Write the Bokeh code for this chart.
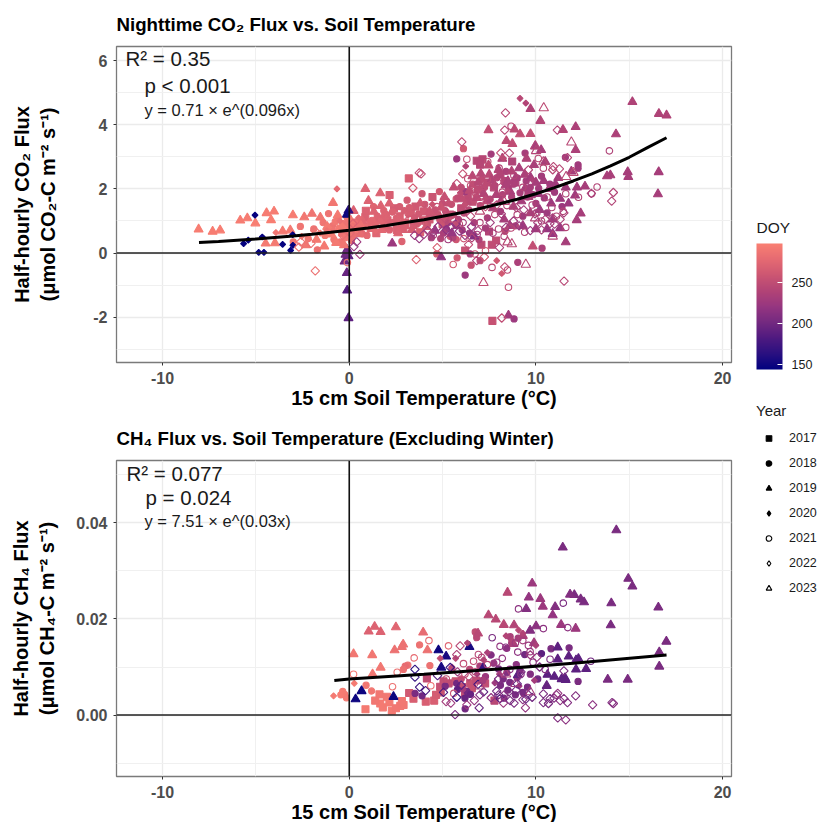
from bokeh.plotting import figure
from bokeh.layouts import column, row
from bokeh.models import (ColumnDataSource, FixedTicker, Span, Label, LinearColorMapper, ColorBar,
                          Range1d, Legend, LegendItem, NumeralTickFormatter)
from bokeh.embed import file_html
from bokeh.resources import INLINE
import math

FONT = "Liberation Sans"
PALETTE_STOPS = ["#00007f", "#2a1080", "#4f1a80", "#742a80", "#963680", "#b24476", "#cc5672", "#e56a72", "#fa8072"]
DOY_LOW, DOY_HIGH = 144, 298

# ---- CO2 panel: (soil temperature, flux, DOY) per year
co2_2017 = [(3.19,2.33,268),(2.16,1.81,268),(0.89,1.32,270),(0.86,1.12,270),(1.6,1.05,272),(2.4,1.4,265),(2.7,1.15,268),
 (3.0,0.95,270),(3.3,1.25,265),(1.9,0.8,272),(0.3,0.95,278),(4.0,1.3,262),(4.46,1.75,258),(3.8,0.65,268),(5.0,0.9,258),
 (6.0,1.4,250),(6.6,1.6,252),(6.83,2.88,243),(7.14,2.93,243),(7.01,2.76,243),(7.49,0.67,240),(7.08,0.26,248),(7.87,0.39,250),
 (7.64,0.26,250),(6.21,0.08,255),(7.67,-2.12,255),(8.73,2.86,238),(8.1,2.45,240),(7.4,2.2,248),(5.4,1.2,255),(2.9,0.75,268),(4.3,1.05,262),
 (8.9,2.2,238),(9.6,1.85,235),(3.55,1.45,262),(2.05,1.02,270),(2.55,0.72,270),(3.45,0.88,266),(3.95,1.02,264),(4.7,1.18,258),(5.2,1.05,256),
 (5.75,0.88,252),(6.35,1.78,248),(6.9,1.98,248),(7.75,2.05,244),(8.35,2.25,242),(0.55,0.62,280),(1.15,0.78,276),(1.45,0.62,274)]
co2_2018 = [(5.76,2.94,225),(6.12,3.26,262),(7.60,3.09,230),(9.42,3.12,232),(11.58,2.99,230),(8.83,-2.06,225),(6.21,-0.69,225),
 (6.53,-0.38,255),(5.78,-0.15,262),(4.69,-0.03,265),(7.01,-0.24,248),(9.03,-0.29,235),(10.33,0.15,235),(4.83,1.92,262),(5.73,1.69,258),
 (6.21,1.92,228),(12.26,2.75,228),(12.26,2.65,228),(6.48,-0.03,232),(5.41,0.52,258),(5.73,0.42,260),(8.35,0.68,248),(2.82,0.36,272),
 (-1.71,0.10,285),(-2.62,0.83,288),(-1.11,1.23,286),(-1.9,0.75,286),(-1.4,0.95,288),(-0.9,0.85,286),(-0.6,1.05,285),(-0.4,0.6,286),
 (-0.2,0.75,284),(0.4,0.9,282),(0.7,0.6,280),(1.1,0.85,276),(1.5,1.15,272),(2.0,1.2,270),(2.3,0.95,270),(2.7,1.45,266),(3.1,1.65,264),
 (3.5,1.1,262),(3.9,1.85,258),(4.2,0.9,258),(4.6,1.35,256),(5.0,1.55,252),(5.3,0.95,245),(5.6,1.2,250),(6.0,2.05,248),(6.4,1.35,246),
 (6.8,1.75,252),(7.1,2.3,248),(7.4,1.1,235),(7.8,2.1,242),(8.1,1.3,232),(8.4,2.55,236),(8.7,1.75,236),(9.0,2.35,234),(9.3,1.15,228),
 (9.7,2.05,232),(10.0,1.55,232),(10.3,2.4,230),(10.6,1.25,226),(11.0,1.9,228),(11.4,1.45,225),(6.7,0.95,235),(5.2,0.75,225),(4.9,0.45,240),
 (8.9,0.85,240),(-3.0,0.35,290),(-2.2,0.45,290),(1.3,1.45,274),(0.2,0.55,282),
 (-1.3,0.55,292),(-1.05,0.72,292),(-0.82,0.42,290),(-0.75,0.98,290),(-0.55,0.78,292),(-0.48,0.35,288),(-0.3,0.92,290),(-0.22,0.48,288),
 (-0.12,1.12,290),(0.05,0.82,286),(0.12,0.38,284),(0.32,0.72,284),(0.52,1.02,284),(0.82,0.82,280),(0.95,0.55,278),(1.22,1.02,276),(1.42,0.88,276),
 (1.72,1.0,274),(1.85,1.32,272),(2.15,0.72,272),(2.32,1.28,270),(2.52,1.08,270),(2.78,0.92,268),(2.95,1.32,266),(3.22,1.42,266),(3.42,0.98,262),
 (3.72,1.22,262),(4.05,1.52,258),(4.32,1.18,258),(4.85,1.05,256),(5.15,1.32,252),(5.48,1.52,254),(5.82,1.72,250),(6.15,1.25,248),(6.62,2.15,250),
 (7.02,1.48,246),(7.25,2.05,248),(7.55,1.68,244),(7.92,2.35,240),(8.22,1.82,238),(8.52,2.05,236),(8.82,2.15,236),(9.15,1.88,234),(9.48,2.25,232),
 (9.85,1.82,232),(10.15,2.02,230),(10.45,1.72,228),(10.75,2.15,228),(5.05,0.62,235),(5.55,0.48,238),(6.05,0.72,230),(6.45,0.62,225),(6.95,0.42,238),
 (7.3,0.78,232),(4.4,0.48,232),(5.85,1.05,240)]
co2_2019 = [(15.17,4.72,238),(16.59,4.35,238),(17.0,4.30,238),(14.29,3.71,236),(9.71,4.50,238),(10.24,4.13,242),(12.13,3.94,236),
 (11.45,3.85,240),(7.46,3.84,252),(8.85,3.86,248),(9.15,3.71,252),(9.71,3.72,252),(8.42,3.50,248),(8.74,3.41,250),(12.13,3.22,236),
 (10.28,3.22,232),(9.96,3.33,232),(14.92,2.53,232),(14.95,2.38,232),(16.58,2.53,232),(16.54,1.84,232),(13.99,2.43,234),(13.81,2.40,234),
 (12.63,2.08,232),(12.40,1.24,232),(12.19,1.03,232),(11.60,0.34,232),(9.83,0.21,252),(4.92,-0.13,220),(8.53,-1.95,228),(7.46,2.74,248),
 (-8.07,0.74,295),(-7.32,0.67,295),(-6.92,0.71,295),(-5.84,1.02,294),(-5.46,1.09,294),(-5.03,0.93,296),(-4.43,1.25,294),(-4.03,1.30,294),
 (-4.19,1.03,296),(-3.02,1.18,294),(-4.48,0.30,292),(-0.87,1.57,290),(-2.41,1.12,290),(-2.0,1.23,288),(-1.55,1.11,290),(-3.57,0.68,292),
 (-3.16,0.71,292),(-3.98,0.31,292),(-2.32,0.25,290),(-1.34,0.21,292),(0.86,2.0,272),(1.66,1.87,272),(1.03,1.63,272),(1.32,1.29,272),
 (1.69,1.47,272),(0.23,1.32,270),(2.15,1.55,270),(-0.04,1.33,165),(-0.13,1.2,150),(-0.04,0.05,195),(-0.13,-0.62,195),(-0.11,-1.17,185),
 (-0.04,-2.03,190),(-0.25,-0.26,200),(-0.04,-0.1,190),(-0.12,0.1,195),(-0.2,-0.05,200),(2.3,0.3,225),(3.8,1.55,262),(4.3,1.3,260),(5.1,1.75,255),
 (5.6,2.05,250),(6.3,1.6,248),(6.9,2.2,245),(7.2,1.85,240),(7.7,1.4,238),(8.0,2.6,240),(8.2,2.95,238),(8.5,2.25,236),(8.8,1.45,236),
 (9.1,2.65,234),(9.4,2.45,236),(9.6,1.75,232),(9.9,2.75,234),(10.0,2.2,232),(10.2,1.35,226),(10.5,2.85,234),(10.7,2.0,230),(10.9,1.05,225),
 (11.2,2.35,232),(11.3,1.7,226),(11.6,2.05,228),(11.75,1.55,225),(11.9,2.55,232),(12.1,1.8,228),(12.2,2.05,230),(8.3,1.05,232),(9.3,0.85,228),
 (10.6,0.75,222),(10.9,0.6,222),(11.3,0.78,225),(6.7,0.52,210),(5.5,0.62,222),(3.0,0.85,268),(2.5,0.95,270),(1.9,1.2,272),(0.7,1.0,275),
 (7.5,2.45,246),(6.6,2.4,246),(9.7,1.25,236),(8.7,2.55,240),(9.5,2.95,238),(4.6,0.7,222),(8.6,0.85,235),(10.0,0.75,228),
 (-1.75,0.42,292),(-1.18,0.82,292),(-0.95,0.58,294),(-0.7,0.32,292),(-0.62,1.18,292),(-0.38,0.85,292),(-0.28,0.25,290),(-0.08,0.62,290),
 (0.08,1.02,290),(0.2,0.72,288),(0.62,0.85,284),(1.72,0.72,276),(2.62,0.62,272),(3.35,0.72,266),(4.12,0.82,262),(4.92,1.42,258),(5.32,1.55,254),
 (6.05,1.68,250),(6.45,1.95,248),(6.85,1.72,246),(7.05,2.48,244),(7.38,1.62,240),(7.62,2.28,240),(7.88,1.82,238),(8.12,1.62,236),(8.38,2.12,236),
 (8.62,1.92,234),(8.92,2.35,234),(9.22,1.62,232),(9.42,2.02,232),(9.72,2.35,230),(10.12,1.85,228),(10.42,2.25,230),(10.82,1.55,226),(11.05,2.15,228)]
co2_2020 = [(-5.05,1.18,147),(-5.66,0.29,147),(-5.41,0.40,147),(-4.66,0.50,147),(-4.85,0.02,147),(-4.57,0.02,147),(-3.57,0.27,147),
 (-3.14,0.08,147),(-3.02,0.24,147),(-3.03,0.57,147),(-3.93,0.64,288),(-0.66,2.0,278),(9.15,4.83,245),(9.46,4.68,240),(6.24,2.71,240),
 (7.90,-0.24,262),(8.17,-0.64,262),(8.26,2.96,248),(-1.2,0.7,286),(-0.5,1.0,284),(0.5,1.1,278),(1.4,0.7,278),(2.6,1.0,270),(3.7,0.9,264),
 (4.8,1.2,258),(6.2,1.5,252),(7.3,1.7,246),(8.5,1.95,240),(9.8,2.3,236),(-2.55,0.52,290),(-1.55,0.62,290),(-0.85,0.72,288),(-0.15,0.95,286),(1.08,0.98,276),
 (1.95,1.08,272),(3.15,1.18,266),(4.45,1.52,258),(5.95,1.88,250)]
co2_2021 = [(13.94,3.19,238),(6.30,2.93,250),(7.42,2.86,250),(8.67,3.96,245),(8.03,2.65,240),(10.13,2.95,245),(10.4,2.65,240),(13.28,2.06,240),
 (12.99,1.85,238),(12.28,1.74,240),(11.6,0.80,240),(11.47,1.30,240),(8.53,-1.07,252),(8.48,-0.53,248),(7.65,-0.45,248),(5.57,-0.36,262),
 (7.30,0.07,262),(6.74,-0.03,255),(6.14,0.45,260),(8.67,0.78,246),(-0.1,-0.3,285),(6.5,2.1,252),(6.0,1.35,250),(5.4,1.15,255),(4.7,1.45,256),
 (7.0,1.6,250),(7.4,2.3,248),(7.8,1.2,244),(8.2,1.9,244),(9.0,1.2,240),(9.3,2.05,242),(9.8,1.5,238),(10.3,1.0,238),(10.6,1.75,240),(11.1,1.15,240),
 (11.6,1.85,238),(4.1,0.95,258),(3.2,1.05,262),(2.2,0.85,268),(0.9,0.7,276),(5.9,0.9,248),(7.0,0.95,240),(8.0,0.75,242),(9.4,0.65,240),
 (6.35,2.32,250),(6.75,1.88,250),(7.15,2.08,248),(7.95,2.22,244),(8.45,1.48,240),(8.82,2.42,242),(9.55,1.75,240),(10.05,1.25,236),(10.85,1.42,238),
 (4.5,0.55,232),(5.3,0.42,228),(6.1,0.95,232),(6.85,0.58,228),(7.7,0.62,232),(8.3,0.52,236)]
co2_2022 = [(8.37,4.38,245),(8.33,3.84,245),(6.03,3.47,248),(11.15,3.84,240),(8.12,3.13,250),(8.58,3.12,245),(11.69,2.98,242),(11.26,2.63,245),
 (10.94,2.70,245),(3.85,2.47,250),(6.08,2.47,255),(5.76,2.17,250),(14.15,1.89,240),(14.06,1.62,240),(12.97,1.86,235),(11.51,-0.88,245),
 (8.17,-2.03,250),(8.33,-0.43,252),(4.71,0.17,268),(7.24,-0.12,262),(6.83,-0.24,240),(8.05,0.17,235),(6.57,0.47,240),(6.39,0.26,250),(4.48,0.64,225),
 (-1.82,-0.56,285),(0.57,-0.04,230),(3.59,-0.21,272),(3.41,2.03,265),(3.75,2.5,252),(-2.7,0.18,285),(-2.05,0.3,285),(-2.6,0.35,285),(-1.85,0.7,285),
 (0.4,0.35,225),(0.25,0.2,222),(3.5,0.55,225),(3.75,0.45,220),(5.2,0.72,215),(5.7,0.9,212),(5.9,0.68,215),(6.2,0.55,220),(6.9,0.7,235),(8.4,0.8,225),(8.8,1.0,228),
 (9.1,0.85,222),(9.7,0.7,225),(10.5,1.05,235),(10.9,1.1,235),(11.0,0.9,230),(11.3,1.05,235),(11.5,1.25,235),(10.1,0.95,230),(7.3,1.45,250),(7.9,1.5,246),(6.5,1.15,245),
 (5.1,1.1,250),(4.2,0.7,235),(9.6,2.6,240),(10.9,2.6,245),(-0.35,0.55,282),(0.05,0.62,278),(0.2,0.92,270),(4.0,0.58,225),(4.75,0.82,222),(5.45,0.82,218),
 (6.55,0.82,222),(7.55,0.95,228),(8.15,1.22,232),(8.95,1.42,236),(9.35,1.35,232),(9.95,1.22,232),(10.3,0.72,232),(10.75,0.92,232)]
co2_2023 = [(10.42,4.53,248),(11.90,3.46,245),(9.97,3.34,242),(10.01,3.19,242),(10.4,2.84,245),(11.62,2.38,245),(12.01,2.51,248),(7.19,-0.93,250),
 (9.46,-0.36,245),(8.71,0.28,245),(8.48,0.34,245),(10.9,0.52,240),(9.96,1.09,240),(7.0,1.3,248),(8.3,1.6,245),(5.6,1.05,252)]

# ---- CH4 panel
ch4_2017 = [(.87,.0012,292),(2.28,.0009,292),(2.73,.0019,290),(2.91,.0021,290),(2.82,.0029,290),(1.8,.0016,292),(1.66,.0024,292),(1.39,.0030,290),
 (1.62,.0043,290),(2.02,.0038,290),(3.21,.0046,262),(3.44,.0034,268),(4.1,.0028,268),(4.55,.0030,268),(4.16,.0076,250),(4.87,.0059,255),
 (5.32,.0066,250),(6.48,.0066,255),(6.57,.0056,255),(7.28,.0066,250),(7.78,.0030,245),(5.7,.0070,255),(4.9,.0047,255),(6.2,.0045,250),(2.15,.0026,292),(2.5,.0014,290),
 (4.65,.0042,265),(5.05,.0070,252),(6.05,.0058,252),(6.8,.0072,250)]
ch4_2018 = [(3.77,.0146,285),(4.32,.0103,285),(3.14,.0104,285),(6.83,.0161,245),(6.75,.0173,250),(11.78,.0140,205),(10.81,.0138,205),(12.26,.0070,205),
 (6.21,.0013,200),(3.53,.0045,205),(8.44,.0139,215),(8.62,.0163,235),(5.76,.0066,200),(5.14,.0060,205),(6.3,.0049,200),(-.25,.0043,292),(-.35,.0049,294),
 (-.15,.0036,292),(-.45,.0042,294),(3.9,.0040,200),(5.8,.0053,190),(6.2,.0035,195),(6.5,.0043,195),(7.3,.0080,225),(7.6,.0125,210),(8.0,.0096,205),(8.5,.0052,205),
 (8.9,.0042,205),(9.3,.0047,205),(9.4,.0126,200),(9.7,.0085,210),(10.1,.0075,200),(10.3,.0128,190),(8.1,.0062,205),(7.0,.0102,235),(6.0,.0075,250),(3.0,.0102,280),
 (2.9,.0095,285),(.9,.0062,290),(1.2,.0050,290),(5.5,.0096,245),(8.3,.0035,205),(9.0,.0078,215),(8.7,.0150,232),(9.05,.0160,232),(8.95,.0105,215),(8.25,.0075,205),
 (8.6,.0068,205),(9.55,.0058,205),(9.15,.0092,205),(8.45,.0088,210),(7.75,.0108,222),(7.15,.0072,232),(6.45,.0095,245)]
ch4_2019 = [(14.31,.0385,205),(11.44,.0349,205),(14.95,.0284,205),(15.17,.0268,205),(16.56,.0224,205),(16.99,.0153,205),(16.61,.0131,205),(16.61,.0101,205),
 (14.92,.0074,205),(13.85,.0074,205),(14.01,.0187,205),(14.04,.0233,205),(12.58,.0235,205),(12.40,.0241,205),(12.06,.0250,205),(11.83,.0251,210),(11.03,.0225,210),
 (10.90,.0208,220),(11.35,.0188,225),(12.13,.0180,225),(10.01,.0185,215),(9.69,.0176,210),(10.24,.0242,225),(10.37,.0226,225),(9.62,.0245,220),(9.80,.0274,225),
 (9.48,.0221,210),(8.48,.0255,245),(7.46,.0208,245),(7.85,.0199,245),(8.28,.0188,245),(8.83,.0187,240),(2.50,.0183,275),(1.68,.0173,272),(1.36,.0184,272),(1.04,.0174,272),
 (3.96,.0172,280),(2.89,.0147,285),(2.82,.0142,285),(2.43,.0135,285),(4.19,.0135,285),(1.23,.0125,290),(.23,.0127,290),(1.68,.0099,290),(1.25,.0085,290),
 (.66,.0050,150),(.34,.0033,150),(2.37,.0038,150),(4.78,.0135,150),(5.19,.0122,155),(4.93,.0099,155),(6.44,.0142,155),(7.19,.0099,170),(11.17,.0141,190),(11.76,.0122,190),
 (11.17,.0116,190),(12.15,.0114,190),(12.28,.0117,190),(12.15,.0095,190),(12.69,.0096,190),(10.99,.0080,190),(10.62,.0084,190),(11.56,.0077,190),(11.6,.0073,190),(11.38,.0075,190),
 (9.03,.0083,190),(10.58,.0061,195),(6.9,.0170,245),(9.3,.0165,235),(9.9,.0150,230),(8.8,.0148,235)]
ch4_2020 = [(-.84,.0040,292),(.27,.0066,292),(9.07,.0177,245),(9.3,.0170,240),(9.92,.0072,230),(10.0,.0145,235),(4.87,.0118,250),(6.33,.0150,240),(8.7,.0155,240),(5.7,.0118,245),
 (7.2,.0115,240),(8.05,.0085,230),(5.5,.0100,245),(6.1,.0053,230),(7.8,.0067,225),(9.1,.0060,225),(8.4,.0165,240),(7.4,.0130,235),(6.85,.0085,230)]
ch4_2021 = [(9.07,.0221,215),(11.47,.0233,205),(10.4,.0180,215),(11.71,.0182,215),(4.27,.0155,280),(5.32,.0144,275),(7.66,.0161,205),(.23,.0085,292),(2.32,.0059,285),(2.57,.0089,285),
 (3.48,.0119,280),(4.37,.0061,285),(12.94,.0112,200),(9.69,.0132,225),(9.03,.0131,215),(10.76,.0116,205),(8.08,.0143,220),(8.39,.0141,215),(6.92,.0126,245),(6.66,.0112,250),
 (6.12,.0107,250),(7.9,.0110,225),(9.3,.0155,230),(9.6,.0145,225),(8.9,.0150,225),(7.4,.0105,240),(5.2,.0075,250),(6.2,.0085,255),(8.6,.0095,215),(9.2,.0085,215),
 (10.5,.0095,210),(5.6,.0045,255),(6.75,.0090,245),(7.1,.0120,240),(8.2,.0118,218),(9.85,.0110,215)]
ch4_2022 = [(3.52,.0095,165),(3.52,.0079,170),(4.73,.0082,185),(5.41,.0099,170),(5.76,.0126,235),(5.94,.0144,245),(3.77,.0058,175),(4.09,.0051,180),(5.05,.0047,180),(5.76,.0037,175),
 (5.19,.0028,230),(5.44,.0025,225),(5.67,.0001,205),(6.96,.0015,195),(6.3,.0021,225),(6.9,.0064,175),(8.08,.0034,180),(9.44,.0015,220),(8.83,.0025,205),(8.26,.0025,225),
 (10.4,.0026,205),(10.67,.0024,205),(10.4,.0044,205),(11.17,-.0006,210),(11.6,-.0010,215),(11.69,.0026,210),(12.13,.0040,210),(13.04,.0021,215),(14.08,.0026,210),(14.15,.0024,212),
 (11.1,.0042,215),(11.3,.0030,215),(10.97,.0035,210),(10.76,.0034,205),(11.5,.0034,210),(11.17,.0045,220),(9.8,.0037,200),(9.46,.0033,195),(8.62,.0030,205),(7.2,.0048,190),
 (7.6,.0036,215),(6.4,.0080,240),(9.0,.0065,195),(8.0,.0075,205),(10.2,.0100,205),(5.8,.0090,225),(6.0,.0062,190),(8.3,.0042,220),(9.2,.0090,205),(7.9,.0050,200),
 (9.6,.0042,200),(11.5,.0092,205),(10.05,.0120,220),(8.95,.0052,200),(8.55,.0048,205),(9.3,.0032,215),(8.0,.0042,200),(9.7,.0125,225),(7.0,.0042,210),(6.7,.0030,220)]
ch4_2023 = [(8.9,.0065,225),(9.7,.0048,230),(8.4,.0085,235),(7.0,.0060,235)]

# ---- fitted curves
co2_fit_x = [-8.05, -7, -6, -5, -4, -3, -2, -1, 0, 1, 2, 3, 4, 5, 6, 7, 8, 9, 10, 11, 12, 13, 14, 15, 16, 17]
co2_fit_y = [0.33, 0.36, 0.40, 0.44, 0.485, 0.53, 0.585, 0.645, 0.71, 0.78, 0.86, 0.95, 1.04, 1.145, 1.26, 1.39, 1.53, 1.68, 1.85, 2.04, 2.25, 2.47, 2.72, 2.99, 3.30, 3.60]
ch4_fit_x = [-0.8, 0, 4, 8, 12, 17]
ch4_fit_y = [0.0072, 0.00751, 0.00847, 0.00956, 0.01078, 0.0125]

year_labels = ["2017", "2018", "2019", "2020", "2021", "2022", "2023"]
doy_ticks = [150, 200, 250]
x_major = [-10, 0, 10, 20]
x_minor = [-5, 5, 15]
co2_y_major = [-2, 0, 2, 4, 6]
co2_y_minor = [-3, -1, 1, 3, 5]
ch4_y_major = [0, 0.02, 0.04]
ch4_y_minor = [-0.01, 0.01, 0.03, 0.05]

# marker styling for years
STYLE = {
    "2017": dict(marker="square", size=7, fill=True, angle=0, leg="square"),
    "2018": dict(marker="circle", size=6.2, fill=True, angle=0, leg="circle"),
    "2019": dict(marker="triangle", size=9, fill=True, angle=0, leg="triangle"),
    "2020": dict(marker="square", size=4.2, fill=True, angle=math.pi / 4, leg="diamond"),
    "2021": dict(marker="circle", size=6.5, fill=False, angle=0, leg="circle"),
    "2022": dict(marker="square", size=6, fill=False, angle=math.pi / 4, leg="diamond"),
    "2023": dict(marker="triangle", size=9.5, fill=False, angle=0, leg="triangle"),
}

def hex2rgb(h):
    return [int(h[i:i + 2], 16) for i in (1, 3, 5)]

def build_palette(stops, n=256):
    out = []
    for i in range(n):
        t = i / (n - 1) * (len(stops) - 1)
        j = min(int(t), len(stops) - 2)
        a, b = hex2rgb(stops[j]), hex2rgb(stops[j + 1])
        f = t - j
        out.append("#%02x%02x%02x" % tuple(round(a[k] + (b[k] - a[k]) * f) for k in range(3)))
    return out

mapper = LinearColorMapper(palette=build_palette(PALETTE_STOPS), low=DOY_LOW, high=DOY_HIGH)

def make_panel(title, ylabel, ymin, ymax, ymaj, ymin_t, series, fit_x, fit_y, notes, standoff, height, top, fmt=None):
    p = figure(width=740, height=height, frame_width=615, frame_height=316,
               x_range=Range1d(-12.47, 20.48), y_range=Range1d(ymin, ymax),
               output_backend="svg", toolbar_location=None,
               min_border_left=116, min_border_right=9, min_border_top=top, min_border_bottom=height - top - 316)
    p.title.text = title
    p.title.text_font = FONT
    p.title.text_font_size = "18.7px"
    p.title.text_font_style = "bold"
    p.title.text_color = "black"
    p.title.offset = 0
    p.title.standoff = 23
    xt = FixedTicker(ticks=x_major, minor_ticks=x_minor)
    yt = FixedTicker(ticks=ymaj, minor_ticks=ymin_t)
    for ax, t in ((p.xaxis[0], xt), (p.yaxis[0], yt)):
        ax.ticker = t
        ax.major_label_text_font = FONT
        ax.major_label_text_font_size = "16px"
        ax.major_label_text_font_style = "bold"
        ax.major_label_text_color = "#4d4d4d"
        ax.major_tick_line_color = "#333333"
        ax.major_tick_in = 0
        ax.major_tick_out = 3
        ax.minor_tick_line_color = None
        ax.axis_line_color = None
        ax.axis_label_text_font = FONT
        ax.axis_label_text_font_size = "20px"
        ax.axis_label_text_font_style = "bold"
        ax.axis_label_text_color = "black"
    p.xaxis[0].major_label_overrides = {-10: "-10"}
    p.yaxis[0].major_label_overrides = {-2: "-2"}
    p.xaxis[0].axis_label = "15 cm Soil Temperature (°C)"
    p.xaxis[0].axis_label_standoff = 0
    p.yaxis[0].axis_label = ylabel
    p.yaxis[0].axis_label_standoff = standoff
    if fmt:
        p.yaxis[0].formatter = NumeralTickFormatter(format=fmt)
    for g, t in ((p.xgrid[0], xt), (p.ygrid[0], yt)):
        g.ticker = t
        g.grid_line_color = "#ebebeb"
        g.grid_line_width = 1.3
        g.minor_grid_line_color = "#f0f0f0"
        g.minor_grid_line_width = 1.1
    p.outline_line_color = "#7a7a7a"
    p.outline_line_width = 1.3
    p.add_layout(Span(location=0, dimension="width", line_color="#222222", line_width=1.6))
    p.add_layout(Span(location=0, dimension="height", line_color="#111111", line_width=1.6))
    for name, pts in zip(year_labels, series):
        xs, ys, ds = zip(*pts)
        src = ColumnDataSource(dict(x=xs, y=ys, doy=ds))
        st = STYLE[name]
        col = dict(field="doy", transform=mapper)
        p.scatter("x", "y", source=src, marker=st["marker"], size=st["size"], angle=st["angle"],
                  line_color=col, line_width=1.1, fill_color=col if st["fill"] else None)
    p.line(fit_x, fit_y, line_color="black", line_width=3)
    for (x, y, text, size) in notes:
        p.add_layout(Label(x=x, y=y, text=text, text_font=FONT, text_font_size=size,
                           text_color="#1a1a1a", text_baseline="middle", text_align="left"))
    return p

p1 = make_panel("Nighttime CO₂ Flux vs. Soil Temperature",
                "Half-hourly CO₂ Flux\n(μmol CO₂-C m⁻² s⁻¹)",
                -3.42, 6.45, co2_y_major, co2_y_minor,
                [co2_2017, co2_2018, co2_2019, co2_2020, co2_2021, co2_2022, co2_2023],
                co2_fit_x, co2_fit_y,
                [(-11.99, 6.07, "R² = 0.35", "20.5px"), (-10.97, 5.23, "p < 0.001", "20.5px"),
                 (-10.97, 4.48, "y = 0.71 × e^(0.096x)", "16.5px")],
                31, 410, 45)
p2 = make_panel("CH₄ Flux vs. Soil Temperature (Excluding Winter)",
                "Half-hourly CH₄ Flux\n(μmol CH₄-C m⁻² s⁻¹)",
                -0.0128, 0.0530, ch4_y_major, ch4_y_minor,
                [ch4_2017, ch4_2018, ch4_2019, ch4_2020, ch4_2021, ch4_2022, ch4_2023],
                ch4_fit_x, ch4_fit_y,
                [(-11.94, 0.0503, "R² = 0.077", "20.5px"), (-10.92, 0.0453, "p = 0.024", "20.5px"),
                 (-10.97, 0.0405, "y = 7.51 × e^(0.03x)", "16.5px")],
                15, 412, 49, fmt="0.00")

# legend column on the right
L_H = 822
lg = figure(width=77, height=L_H, x_range=Range1d(0, 1), y_range=Range1d(0, 1),
            output_backend="svg", toolbar_location=None,
            min_border=0, outline_line_color=None, x_axis_location=None, y_axis_location=None)
lg.grid.visible = False

cb = ColorBar(color_mapper=mapper, ticker=FixedTicker(ticks=doy_ticks),
              width=26, height=126, location=(16, L_H - 369), padding=0, margin=0,
              major_label_text_font=FONT, major_label_text_font_size="12.5px", major_label_text_color="#1a1a1a",
              major_tick_line_color="white", major_tick_out=0, major_tick_in=5, label_standoff=9,
              bar_line_color=None, background_fill_color=None, border_line_color=None)
lg.add_layout(cb, "center")
lg.add_layout(Label(x=16, y=L_H - 227, x_units="screen", y_units="screen", text="DOY", text_font=FONT,
                    text_font_size="15.5px", text_color="#1a1a1a", text_baseline="middle"))

items = []
for name in year_labels:
    st = STYLE[name]
    r = lg.scatter(x=[float("nan")], y=[float("nan")], marker=st["leg"], size=st["size"],
                   line_color="black", line_width=1.1, fill_color="black" if st["fill"] else None)
    items.append(LegendItem(label=name, renderers=[r]))
legend = Legend(items=items, title="Year", location=(16, L_H - 595), padding=0, margin=0,
                glyph_width=25, glyph_height=14, label_standoff=8, label_height=14, spacing=11,
                label_text_font=FONT, label_text_font_size="12.5px", label_text_color="#1a1a1a",
                title_text_font=FONT, title_text_font_size="15px", title_text_font_style="normal",
                title_text_color="#1a1a1a", title_standoff=12,
                background_fill_color=None, border_line_color=None)
lg.add_layout(legend, "center")

page = row(column(p1, p2), lg)
open("out.html", "w").write(file_html(page, INLINE))
